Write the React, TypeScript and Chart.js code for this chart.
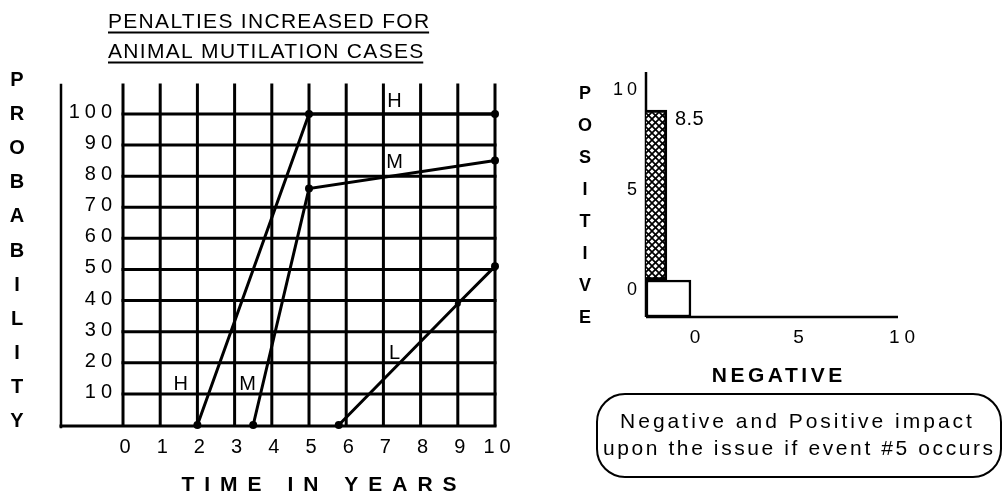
import React, { useEffect, useRef } from "react";
import { Chart, registerables } from "chart.js";

Chart.register(...registerables);

// ---------- Left chart data ----------
const TITLE_LINES = ["PENALTIES INCREASED FOR", "ANIMAL MUTILATION CASES"];
const PROB_AXIS_TITLE = "PROBABILITY";
const TIME_AXIS_TITLE = "TIME IN YEARS";
const YEAR_TICKS = [0, 1, 2, 3, 4, 5, 6, 7, 8, 9, 10];
const PROB_TICKS = [10, 20, 30, 40, 50, 60, 70, 80, 90, 100];
const H_YEARS = [2, 5, 10];
const H_PROB = [0, 100, 100];
const M_YEARS = [3.5, 5, 10];
const M_PROB = [0, 76, 85];
const L_YEARS = [5.8, 9, 10];
const L_PROB = [0, 39, 51];
const CURVE_TAGS = ["H", "M", "H", "M", "L"];
const TAG_YEARS = [1.55, 3.35, 7.3, 7.3, 7.3];
const TAG_PROB = [13.5, 13.5, 104.5, 85, 23.5];

// ---------- Right chart data ----------
const IMPACT_TICKS = [0, 5, 10];
const POSITIVE_TITLE = "POSITIVE";
const NEGATIVE_TITLE = "NEGATIVE";
const POSITIVE_AT = -1.74;
const POSITIVE_RANGE = [0, 8.5];
const POSITIVE_LABEL = "8.5";
const NEGATIVE_AT = -1.085;
const NEGATIVE_RANGE = [-1.85, 0];
const NOTE_LINES = ["Negative and Positive impact", "upon the issue if event #5 occurs"];

const FONT = '"Liberation Sans", Arial, Helvetica, sans-serif';

function spaced(ctx: any, text: string, x: number, y: number, ls: number, align: string) {
  ctx.letterSpacing = "0px";
  const w = ctx.measureText(text).width + ls * (text.length - 1);
  const sx = align === "left" ? x : align === "center" ? x - w / 2 : x - w;
  ctx.textAlign = "left";
  ctx.letterSpacing = ls + "px";
  ctx.fillText(text, sx, y);
  ctx.letterSpacing = "0px";
  return { x: sx, w };
}

function seg(ctx: any, x1: number, y1: number, x2: number, y2: number) {
  ctx.beginPath();
  ctx.moveTo(x1, y1);
  ctx.lineTo(x2, y2);
  ctx.stroke();
}

const probPlugin = {
  id: "probDecor",
  beforeDatasetsDraw(chart: any) {
    const { ctx, chartArea, scales } = chart;
    const x = scales.x;
    const y = scales.y;
    const y0 = y.getPixelForValue(0);
    const x0 = x.getPixelForValue(0);
    const x10 = x.getPixelForValue(10);
    ctx.save();
    ctx.strokeStyle = "#000";
    ctx.lineCap = "square";
    ctx.lineWidth = 3;
    YEAR_TICKS.forEach((v) => {
      const px = x.getPixelForValue(v);
      seg(ctx, px, chartArea.top, px, y0);
    });
    PROB_TICKS.forEach((v) => {
      const py = y.getPixelForValue(v);
      seg(ctx, x0, py, x10, py);
    });
    seg(ctx, chartArea.left, y0 + 1, x10, y0 + 1);
    ctx.lineWidth = 2.5;
    seg(ctx, chartArea.left, chartArea.top, chartArea.left, y0 + 2);
    ctx.restore();
  },
  afterDraw(chart: any) {
    const { ctx, scales } = chart;
    const x = scales.x;
    const y = scales.y;
    ctx.save();
    ctx.fillStyle = "#000";
    ctx.strokeStyle = "#000";
    ctx.textBaseline = "alphabetic";
    // title
    ctx.font = `21px ${FONT}`;
    const baselines = [28, 58];
    TITLE_LINES.forEach((t, i) => {
      const r = spaced(ctx, t, 108, baselines[i], 1.3, "left");
      ctx.lineWidth = 2;
      seg(ctx, r.x, baselines[i] + 4.5, r.x + r.w, baselines[i] + 4.5);
    });
    // vertical axis title
    ctx.font = `bold 20px ${FONT}`;
    PROB_AXIS_TITLE.split("").forEach((ch, i) => {
      ctx.textAlign = "center";
      ctx.fillText(ch, 17, 79 + i * 34.1 + 7);
    });
    // y tick labels
    ctx.font = `20px ${FONT}`;
    const x0 = x.getPixelForValue(0);
    PROB_TICKS.forEach((v) => {
      spaced(ctx, String(v), x0 - 11, y.getPixelForValue(v) + 4, 5, "right");
    });
    // x tick labels
    YEAR_TICKS.forEach((v) => {
      spaced(ctx, String(v), x.getPixelForValue(v) + 2, y.getPixelForValue(0) + 28, 5, "center");
    });
    // x axis title
    ctx.font = `bold 21px ${FONT}`;
    spaced(ctx, TIME_AXIS_TITLE, 319, 490.5, 10, "center");
    // curve tags
    ctx.font = `20px ${FONT}`;
    CURVE_TAGS.forEach((t, i) => {
      ctx.textAlign = "center";
      ctx.fillText(t, x.getPixelForValue(TAG_YEARS[i]), y.getPixelForValue(TAG_PROB[i]) + 7);
    });
    ctx.restore();
  },
};

function makeHatch() {
  const c = document.createElement("canvas");
  const s = 7;
  c.width = s;
  c.height = s;
  const g = c.getContext("2d") as any;
  g.fillStyle = "#fff";
  g.fillRect(0, 0, s, s);
  g.strokeStyle = "#000";
  g.lineWidth = 1.7;
  [-s, 0, s].forEach((o) => {
    seg(g, o, 0, o + s, s);
    seg(g, o + s, 0, o, s);
  });
  return g.createPattern(c, "repeat");
}

const impactPlugin = {
  id: "impactDecor",
  beforeDatasetsDraw(chart: any) {
    const { ctx, chartArea } = chart;
    ctx.save();
    ctx.strokeStyle = "#000";
    ctx.lineWidth = 2.5;
    seg(ctx, chartArea.left, chartArea.top, chartArea.left, chartArea.bottom);
    seg(ctx, chartArea.left, chartArea.bottom, chartArea.right, chartArea.bottom);
    ctx.restore();
  },
  afterDraw(chart: any) {
    const { ctx, chartArea, scales } = chart;
    const x = scales.x;
    const y = scales.y;
    ctx.save();
    ctx.fillStyle = "#000";
    ctx.strokeStyle = "#000";
    ctx.textBaseline = "alphabetic";
    // y ticks
    ctx.font = `18px ${FONT}`;
    IMPACT_TICKS.forEach((v) => {
      spaced(ctx, String(v), chartArea.left - 9, y.getPixelForValue(v) + 15, 4, "right");
    });
    // x ticks
    ctx.font = `19px ${FONT}`;
    IMPACT_TICKS.forEach((v) => {
      spaced(ctx, String(v), x.getPixelForValue(v) + 4, chartArea.bottom + 26, 5, "center");
    });
    // positive letters
    ctx.font = `bold 18px ${FONT}`;
    POSITIVE_TITLE.split("").forEach((ch, i) => {
      ctx.textAlign = "center";
      ctx.fillText(ch, chartArea.left - 61, chartArea.top + 20 + i * 32.1 + 6.5);
    });
    // negative title
    ctx.font = `bold 21px ${FONT}`;
    spaced(ctx, NEGATIVE_TITLE, (chartArea.left + chartArea.right) / 2 + 5, chartArea.bottom + 64.5, 3.5, "center");
    // bar value label
    const el = chart.getDatasetMeta(0).data[0];
    if (el) {
      ctx.font = `20px ${FONT}`;
      spaced(ctx, POSITIVE_LABEL, el.x + el.width / 2 + 8, el.y + 15, 0.5, "left");
    }
    // note box
    const bx = 57, by = 394, bw = 404, bh = 83, r = 28;
    ctx.lineWidth = 2;
    ctx.beginPath();
    ctx.roundRect(bx, by, bw, bh, r);
    ctx.stroke();
    ctx.font = `21px ${FONT}`;
    spaced(ctx, NOTE_LINES[0], 256, 428, 3.0, "center");
    spaced(ctx, NOTE_LINES[1], 258, 455, 2.6, "center");
    ctx.restore();
  },
};

function ProbabilityChart() {
  const ref = useRef<HTMLCanvasElement>(null);
  useEffect(() => {
    const pts = (xs: number[], ys: number[]) => xs.map((v, i) => ({ x: v, y: ys[i] }));
    const ds = (label: string, xs: number[], ys: number[], radii: number[]) => ({
      label,
      data: pts(xs, ys),
      borderColor: "#000",
      backgroundColor: "#000",
      borderWidth: 3,
      pointRadius: radii,
      pointBackgroundColor: "#000",
      pointBorderWidth: 0,
      tension: 0,
      clip: false,
    });
    const chart = new Chart(ref.current as HTMLCanvasElement, {
      type: "line",
      data: {
        datasets: [
          ds("H", H_YEARS, H_PROB, [4, 4, 4]),
          ds("M", M_YEARS, M_PROB, [4, 4, 4]),
          ds("L", L_YEARS, L_PROB, [4, 3, 4]),
        ],
      } as any,
      options: {
        animation: false,
        responsive: false,
        events: [],
        layout: { padding: { left: 61, right: 45, top: 85, bottom: 71 } },
        scales: {
          x: { type: "linear", min: -1.667, max: 10, display: false },
          y: { type: "linear", min: 0, max: 109.3, display: false },
        },
        plugins: { legend: { display: false }, tooltip: { enabled: false } },
      } as any,
      plugins: [probPlugin],
    });
    return () => chart.destroy();
  }, []);
  return <canvas ref={ref} width={540} height={496} style={{ position: "absolute", left: 0, top: 0 }} />;
}

function ImpactChart() {
  const ref = useRef<HTMLCanvasElement>(null);
  useEffect(() => {
    const hatch = makeHatch();
    const chart = new Chart(ref.current as HTMLCanvasElement, {
      type: "bar",
      data: {
        datasets: [
          {
            label: "Positive",
            data: [{ x: POSITIVE_AT, y: POSITIVE_RANGE }],
            backgroundColor: hatch,
            borderColor: "#000",
            borderWidth: 3,
            borderSkipped: false,
            barThickness: 24,
            stack: "impact",
          },
          {
            label: "Negative",
            data: [{ x: NEGATIVE_AT, y: NEGATIVE_RANGE }],
            backgroundColor: "#fff",
            borderColor: "#000",
            borderWidth: 2.5,
            borderSkipped: false,
            barThickness: 45,
            stack: "impact",
          },
        ],
      } as any,
      options: {
        animation: false,
        responsive: false,
        events: [],
        layout: { padding: { left: 106, right: 105, top: 72, bottom: 179 } },
        scales: {
          x: { type: "linear", min: -2.17, max: 10, offset: false, display: false },
          y: { type: "linear", min: -1.85, max: 10.4, stacked: false, display: false },
        },
        plugins: { legend: { display: false }, tooltip: { enabled: false } },
      } as any,
      plugins: [impactPlugin],
    });
    return () => chart.destroy();
  }, []);
  return <canvas ref={ref} width={463} height={496} style={{ position: "absolute", left: 540, top: 0 }} />;
}

export default function App() {
  return (
    <div style={{ position: "fixed", left: 0, top: 0, width: 1003, height: 496, background: "#fff", overflow: "hidden" }}>
      <ProbabilityChart />
      <ImpactChart />
    </div>
  );
}
